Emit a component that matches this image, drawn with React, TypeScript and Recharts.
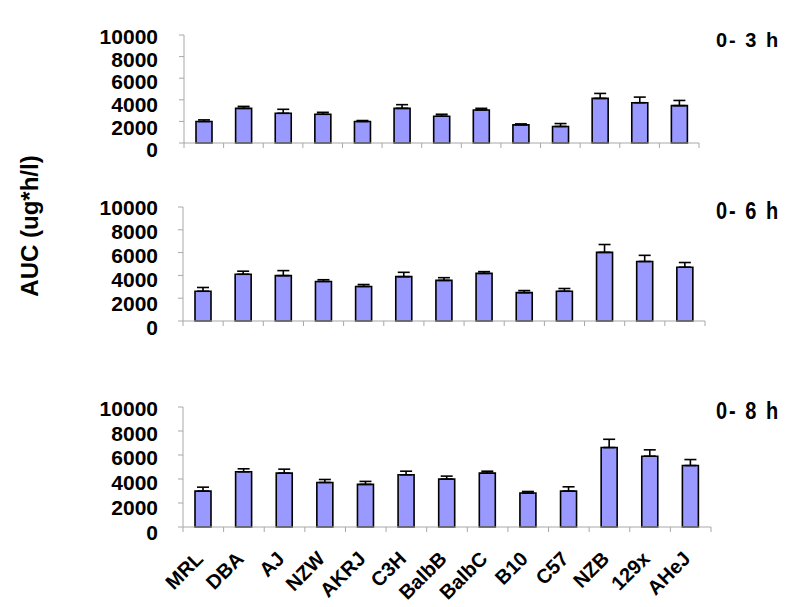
import React from "react";
import { BarChart, Bar, XAxis, YAxis, ErrorBar } from "recharts";

const strains = ["MRL", "DBA", "AJ", "NZW", "AKRJ", "C3H", "BalbB", "BalbC", "B10", "C57", "NZB", "129x", "AHeJ"];

// AUC 0-3 h
const auc3h = [1990, 3210, 2750, 2660, 1990, 3210, 2480, 3060, 1680, 1530, 4130, 3730, 3460];
const sd3h = [150, 180, 370, 180, 90, 340, 180, 150, 90, 270, 460, 520, 480];

// AUC 0-6 h
const auc6h = [2610, 4100, 3980, 3470, 3030, 3890, 3560, 4180, 2490, 2610, 6020, 5220, 4720];
const sd6h = [330, 270, 440, 150, 170, 380, 240, 150, 180, 240, 690, 540, 410];

// AUC 0-8 h
const auc8h = [2990, 4600, 4490, 3710, 3550, 4350, 3990, 4490, 2830, 2990, 6620, 5900, 5120];
const sd8h = [330, 250, 330, 250, 250, 300, 250, 160, 130, 360, 690, 530, 500];

const yTicks = [0, 2000, 4000, 6000, 8000, 10000];

const FONT = "'Liberation Sans', Arial, Helvetica, sans-serif";
const AXIS_GRAY = "#a8a8a8";

interface PanelProps {
  values: number[];
  errors: number[];
  divTop: number;
  plotTop: number;
  plotBottom: number;
  plotLeft: number;
  plotRight: number;
  xAxisHeight: number;
  stretch: number;
  shift: number;
  showNames?: boolean;
}

const Panel: React.FC<PanelProps> = ({
  values,
  errors,
  divTop,
  plotTop,
  plotBottom,
  plotLeft,
  plotRight,
  xAxisHeight,
  stretch,
  shift,
  showNames = false,
}) => {
  const data = strains.map((s, i) => ({ strain: s, auc: values[i], sd: [0, errors[i]] }));
  const top = plotTop - divTop;
  const axisY = plotBottom - divTop;
  const height = axisY + xAxisHeight + 2;
  const band = (plotRight - plotLeft) / strains.length;

  // tick labels in the original sit a little lower / more spread than the ticks
  const renderYTick = (props: any) => {
    const { y, payload } = props;
    const ly = top + (y - top) * stretch + shift;
    return (
      <text
        x={158}
        y={ly}
        dy="0.36em"
        textAnchor="end"
        fontFamily={FONT}
        fontWeight="bold"
        fontSize={21}
        fill="#000"
      >
        {payload.value}
      </text>
    );
  };

  // small ticks between categories + rotated strain names
  const renderXTick = (props: any) => {
    const { x, payload, index } = props;
    const lx = x + 1;
    const ly = axisY + 33;
    return (
      <g>
        <line x1={x - band / 2} y1={axisY} x2={x - band / 2} y2={axisY + 5} stroke={AXIS_GRAY} />
        {index === strains.length - 1 && (
          <line x1={x + band / 2} y1={axisY} x2={x + band / 2} y2={axisY + 5} stroke={AXIS_GRAY} />
        )}
        {showNames && (
          <text
            x={lx}
            y={ly}
            transform={`rotate(-45, ${lx}, ${ly})`}
            textAnchor="end"
            fontFamily={FONT}
            fontWeight="bold"
            fontSize={20}
            fill="#000"
          >
            {payload.value}
          </text>
        )}
      </g>
    );
  };

  return (
    <div style={{ position: "absolute", left: 0, top: divTop, width: 800, height }}>
      <BarChart
        width={800}
        height={height}
        data={data}
        margin={{ top, right: 800 - plotRight, bottom: 2, left: 0 }}
      >
        <XAxis
          dataKey="strain"
          interval={0}
          height={xAxisHeight}
          axisLine={{ stroke: AXIS_GRAY }}
          tickLine={false}
          tick={renderXTick}
        />
        <YAxis
          domain={[0, 10000]}
          ticks={yTicks}
          interval={0}
          width={plotLeft}
          axisLine={{ stroke: AXIS_GRAY }}
          tickLine={{ stroke: AXIS_GRAY }}
          tickSize={5}
          tick={renderYTick}
        />
        <Bar
          dataKey="auc"
          fill="#9999ff"
          stroke="#000"
          strokeWidth={1.6}
          barSize={16}
          isAnimationActive={false}
        >
          <ErrorBar dataKey="sd" width={6} stroke="#000" strokeWidth={1.6} />
        </Bar>
      </BarChart>
    </div>
  );
};

const titleStyle: React.CSSProperties = {
  position: "absolute",
  left: 716,
  fontFamily: FONT,
  fontWeight: "bold",
  fontSize: 20,
  letterSpacing: 2,
  whiteSpace: "nowrap",
  lineHeight: 1,
};

export default function App() {
  return (
    <div
      style={{
        position: "absolute",
        left: 0,
        top: 0,
        width: 800,
        height: 607,
        background: "#fff",
        overflow: "hidden",
      }}
    >
      <Panel
        values={auc3h}
        errors={sd3h}
        divTop={0}
        plotTop={35}
        plotBottom={143}
        plotLeft={184}
        plotRight={699}
        xAxisHeight={20}
        stretch={1.05}
        shift={1.5}
      />
      <Panel
        values={auc6h}
        errors={sd6h}
        divTop={170}
        plotTop={207}
        plotBottom={321}
        plotLeft={183}
        plotRight={705}
        xAxisHeight={20}
        stretch={1.053}
        shift={0}
      />
      <Panel
        values={auc8h}
        errors={sd8h}
        divTop={370}
        plotTop={407}
        plotBottom={527}
        plotLeft={183}
        plotRight={711}
        xAxisHeight={78}
        stretch={1.04}
        shift={1}
        showNames
      />

      <div style={{ ...titleStyle, top: 40, transform: "translateY(-50%) scaleY(1.05)" }}>0- 3 h</div>
      <div style={{ ...titleStyle, top: 211, transform: "translateY(-50%) scaleY(1.2)" }}>0- 6 h</div>
      <div style={{ ...titleStyle, top: 411, transform: "translateY(-50%) scaleY(1.2)" }}>0- 8 h</div>

      <div
        style={{
          position: "absolute",
          left: 30,
          top: 226,
          transform: "translate(-50%, -50%) rotate(-90deg)",
          fontFamily: FONT,
          fontWeight: "bold",
          fontSize: 24,
          whiteSpace: "nowrap",
          lineHeight: 1,
        }}
      >
        AUC (ug*h/l)
      </div>
    </div>
  );
}
